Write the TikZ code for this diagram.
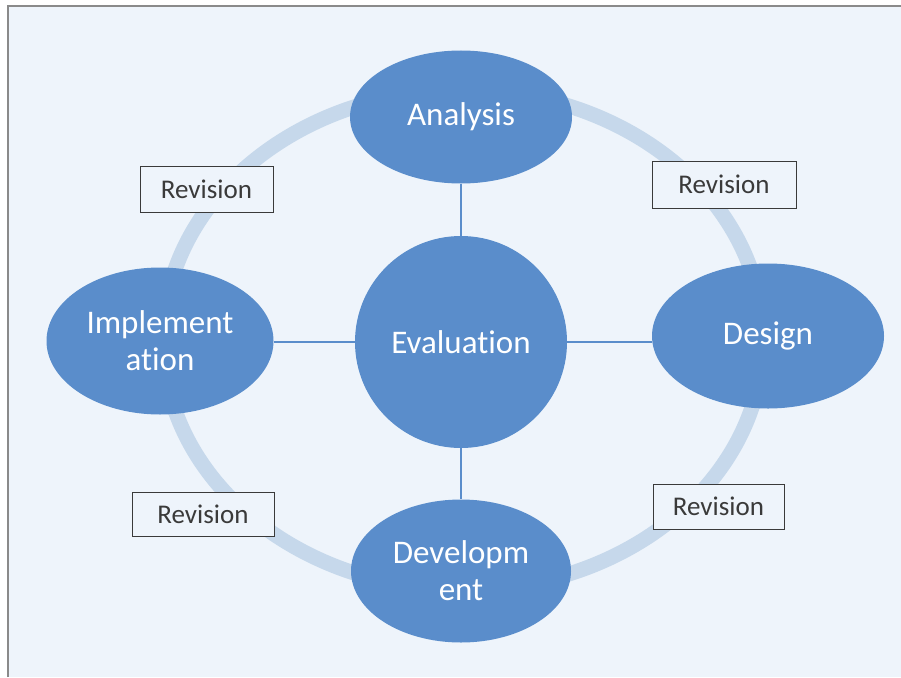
\documentclass[tikz,border=0pt]{standalone}
\usepackage{fontspec}
\setmainfont{Carlito}[Ligatures={NoCommon}]
\usetikzlibrary{shapes.geometric}
\definecolor{bgc}{HTML}{EEF4FB}
\definecolor{bub}{HTML}{5A8DCB}
\definecolor{ringc}{HTML}{C6D8EB}
\definecolor{frame}{HTML}{8A8A8A}
\definecolor{revtxt}{HTML}{3A3A3A}
\tikzset{
  bubble/.style={ellipse, fill=bub, draw=none, inner sep=0pt, text=white,
    align=center, font=\fontsize{33}{37}\selectfont},
  revbox/.style={rectangle, fill=bgc, draw=revtxt, line width=0.9pt, inner sep=0pt,
    text=revtxt, font=\fontsize{27}{30}\selectfont},
  link/.style={draw=bub, line width=1.3pt}
}
\begin{document}
\begin{tikzpicture}[x=1pt,y=-1pt]
\useasboundingbox (0,0) rectangle (901,677);
\fill[white] (0,0) rectangle (901,677);
\fill[bgc] (8,6) rectangle (901,677);
\draw[frame, line width=2pt] (8,677) -- (8,6) -- (901,6);
% ring
\draw[ringc, line width=15pt] (463,340) ellipse [x radius=300, y radius=250];
% nodes
\node[bubble, minimum width=222pt, minimum height=133pt] (ana) at (461,117) {Analysis};
\node[bubble, circle, minimum size=212pt] (eva) at (461,342) {Evaluation};
\node[bubble, minimum width=227pt, minimum height=147pt] (imp) at (160,341) {Implement\\ation};
\node[bubble, minimum width=232pt, minimum height=145pt] (des) at (768,336) {Design};
\node[bubble, minimum width=220pt, minimum height=143pt] (dev) at (461,571) {Developm\\ent};
% connectors
\draw[link] (ana.south) -- (eva.north);
\draw[link] (eva.south) -- (dev.north);
\draw[link] (eva.west) -- (eva.west -| imp.east);
\draw[link] (eva.east) -- (eva.east -| des.west);
% revision boxes
\node[revbox, minimum width=133pt, minimum height=46pt] (r1) at (206.5,189) {Revision};
\node[revbox, minimum width=144pt, minimum height=47pt] (r2) at (724,184.5) {Revision};
\node[revbox, minimum width=142pt, minimum height=44pt] (r3) at (203,514) {Revision};
\node[revbox, minimum width=131pt, minimum height=45pt] (r4) at (718.5,506.5) {Revision};
\end{tikzpicture}
\end{document}
